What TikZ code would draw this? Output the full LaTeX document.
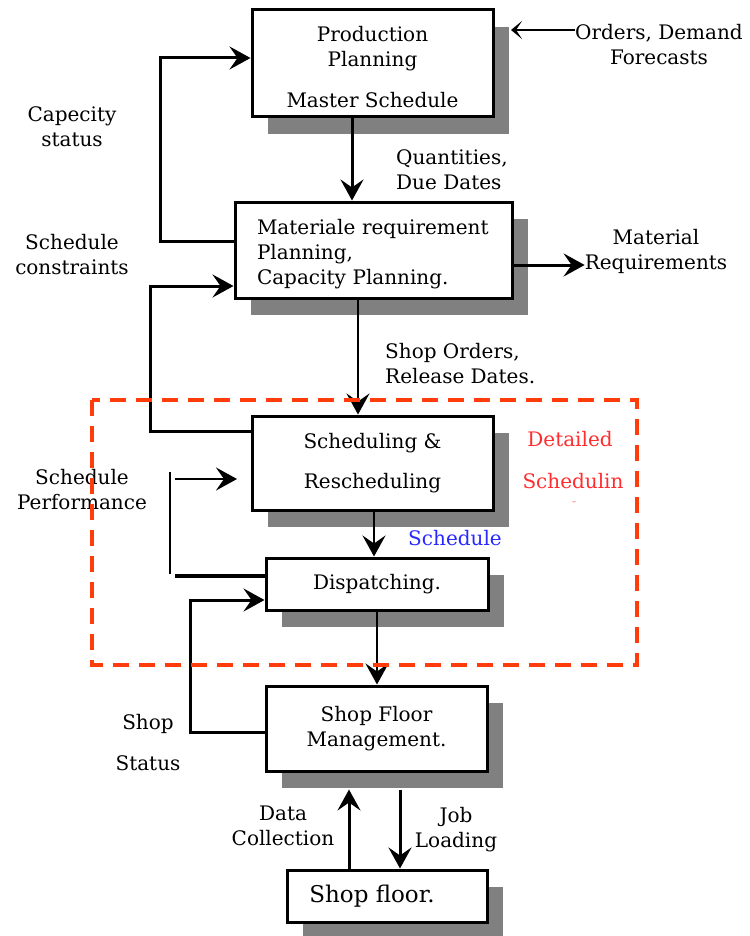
\documentclass[tikz,border=0pt]{standalone}
\usepackage{fontspec}
\setmainfont{DejaVu Serif}
\usetikzlibrary{arrows.meta,shadows}
\definecolor{shade}{RGB}{128,128,128}
\definecolor{zone}{RGB}{255,60,10}
\definecolor{zonetext}{RGB}{255,45,45}
\definecolor{flowblue}{RGB}{40,40,255}

\begin{document}
\begin{tikzpicture}[x=1pt,y=-1pt,
  font=\fontsize{20}{25}\selectfont,
  box/.style={draw, line width=3pt, fill=white, inner sep=0pt, align=center,
    drop shadow={shadow xshift=16pt, shadow yshift=-17pt, fill=shade, opacity=1}},
  lbl/.style={inner sep=0pt, align=center},
  tip/.style={-{Stealth[length=21pt,width=23pt,inset=8pt]}},
  flow/.style={line width=3pt, tip},
  thinflow/.style={line width=2.5pt, tip},
  zonebox/.style={draw=zone, line width=4.5pt, dash pattern=on 16pt off 10pt}
]
\useasboundingbox (0,0) rectangle (749,936);

% ---------- boxes ----------
\node[box, minimum width=241pt, minimum height=107pt] (pp) at (372.5,63.5)
  {\rule{0pt}{23pt}Production\\Planning\\[16pt]Master Schedule};
\node[box, minimum width=277pt, minimum height=96pt, text width=233pt, align=left] (mrp) at (373.5,250)
  {\rule{0pt}{24pt}Materiale requirement\\Planning,\\Capacity Planning.};
\node[box, minimum width=241pt, minimum height=94pt] (sched) at (372.5,463)
  {Scheduling \&\\[15pt]Rescheduling};
\node[box, minimum width=222pt, minimum height=52pt] (disp) at (377,584)
  {Dispatching.};
\node[box, minimum width=221pt, minimum height=85pt] (sfm) at (376.5,728.5)
  {Shop Floor\\Management.};
\node[box, minimum width=200pt, minimum height=52pt, font=\fontsize{23}{28}\selectfont] (sf) at (387,896)
  {Shop floor.\hspace*{30pt}};

% ---------- labels ----------
\node[lbl] (orders) at (659,45) {Orders, Demand\\Forecasts};
\node[lbl] (cap) at (72,127) {Capecity\\status};
\node[lbl] (cons) at (72,255) {Schedule\\constraints};
\node[lbl, anchor=west, align=left] (qty) at (396,170) {Quantities,\\Due Dates};
\node[lbl, anchor=west, align=left] (sho) at (385,364) {Shop Orders,\\Release Dates.};
\node[lbl] (matreq) at (656,251) {Material\\Requirements};
\node[lbl, text=zonetext] (det) at (570,439) {Detailed};
\node[lbl, text=zonetext] (detsch) at (573,481) {Schedulin};
\node[lbl, text=zonetext, font=\fontsize{8}{8}\selectfont] (detcut) at (574,503) {--};
\node[lbl, text=flowblue] (schlab) at (455,538) {Schedule};
\node[lbl] (perf) at (82,490) {Schedule\\Performance};
\node[lbl] (shopst) at (148,743) {Shop\\[16pt]Status};
\node[lbl] (datac) at (283,826) {Data\\Collection};
\node[lbl] (jobl) at (456,830) {Job\\Loading};

% ---------- helper points ----------
\coordinate (sfmshadow) at ([yshift=-17pt]sfm.south);
\coordinate (perfTop) at (170,472);
\coordinate (perfBot) at (170,574);
\coordinate (perfIn) at (175,479);
\coordinate (perfTip) at (237,479);
\coordinate (perfEnd) at (175,576);
\coordinate (ppshadow) at (511,30);

% ---------- connectors ----------
\draw[flow] (352,0 |- pp.south) -- (352,0 |- mrp.north);
\draw[line width=2pt, -{Stealth[length=11pt,width=18pt,inset=6pt]}] (orders.west |- 0,30) -- (ppshadow);
\draw[flow] (mrp.east |- 0,265) -- (matreq.west |- 0,265);
\draw[flow] (mrp.west |- 0,241) -| (160,58) -- (pp.west |- 0,58);
\draw[flow] (sched.west |- 0,431) -| (150,286) -- (mrp.west |- 0,286);
\draw[thinflow] (358,0 |- mrp.south) -- (358,0 |- sched.north);
\draw[thinflow] (374,0 |- sched.south) -- (374,0 |- disp.north);
\draw[thinflow] (377,0 |- disp.south) -- (377,0 |- sfm.north);

\draw[line width=2pt] (perfTop) -- (perfBot);
\draw[thinflow] (perfIn) -- (perfTip);
\draw[line width=4pt] (disp.west |- perfEnd) -- (perfEnd);

\draw[flow] (sfm.west |- 0,732) -| (190,600) -- (disp.west |- 0,600);

\draw[flow] (349,0 |- sf.north) -- (349,0 |- sfmshadow);
\draw[flow] (400,0 |- sfmshadow) -- (400,0 |- sf.north);

% ---------- detailed scheduling zone ----------
\draw[zonebox] (92,400) rectangle (637,665);
\end{tikzpicture}
\end{document}
